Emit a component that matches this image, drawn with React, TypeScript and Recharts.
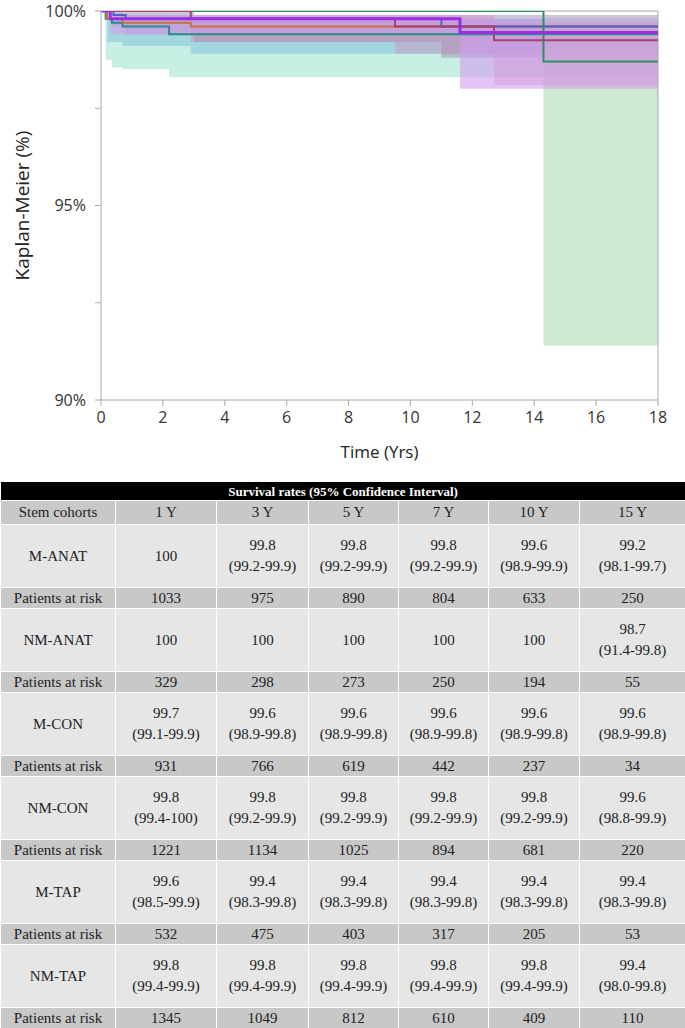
import React from 'react';
import {
  ComposedChart,
  Line,
  Area,
  XAxis,
  YAxis,
  ReferenceLine,
} from 'recharts';

// Kaplan-Meier steps (time in years, survival %)
const mAnatTime = [0, 2.9, 9.5, 12.7];
const mAnatSurv = [100, 99.8, 99.6, 99.25];
const mAnatLow = [100, 99.2, 98.9, 98.1];
const mAnatHigh = [100, 99.9, 99.9, 99.7];

const nmAnatTime = [0, 14.3];
const nmAnatSurv = [100, 98.7];
const nmAnatLow = [100, 91.4];
const nmAnatHigh = [100, 99.8];

const mConTime = [0, 0.2, 0.7, 2.9];
const mConSurv = [100, 99.8, 99.7, 99.6];
const mConLow = [100, 99.2, 99.1, 98.9];
const mConHigh = [100, 99.95, 99.9, 99.8];

const nmConTime = [0, 0.4, 0.8, 3.0, 11.0];
const nmConSurv = [100, 99.9, 99.8, 99.8, 99.6];
const nmConLow = [100, 99.6, 99.4, 99.2, 98.8];
const nmConHigh = [100, 100, 100, 99.9, 99.9];

const mTapTime = [0, 0.15, 0.35, 0.7, 2.2];
const mTapSurv = [100, 99.8, 99.7, 99.6, 99.4];
const mTapLow = [100, 98.75, 98.55, 98.5, 98.3];
const mTapHigh = [100, 99.95, 99.9, 99.9, 99.8];

const nmTapTime = [0, 0.3, 11.6];
const nmTapSurv = [100, 99.8, 99.45];
const nmTapLow = [100, 99.4, 98.0];
const nmTapHigh = [100, 99.9, 99.8];

const xTicks = [0, 2, 4, 6, 8, 10, 12, 14, 16, 18];
const yTicks = [90, 92.5, 95, 97.5, 100];

// table
const periods = ['1 Y', '3 Y', '5 Y', '7 Y', '10 Y', '15 Y'];
const cohorts = ['M-ANAT', 'NM-ANAT', 'M-CON', 'NM-CON', 'M-TAP', 'NM-TAP'];
const rates = [
  ['100', '99.8', '99.8', '99.8', '99.6', '99.2'],
  ['100', '100', '100', '100', '100', '98.7'],
  ['99.7', '99.6', '99.6', '99.6', '99.6', '99.6'],
  ['99.8', '99.8', '99.8', '99.8', '99.8', '99.6'],
  ['99.6', '99.4', '99.4', '99.4', '99.4', '99.4'],
  ['99.8', '99.8', '99.8', '99.8', '99.8', '99.4'],
];
const intervals = [
  ['', '(99.2-99.9)', '(99.2-99.9)', '(99.2-99.9)', '(98.9-99.9)', '(98.1-99.7)'],
  ['', '', '', '', '', '(91.4-99.8)'],
  ['(99.1-99.9)', '(98.9-99.8)', '(98.9-99.8)', '(98.9-99.8)', '(98.9-99.8)', '(98.9-99.8)'],
  ['(99.4-100)', '(99.2-99.9)', '(99.2-99.9)', '(99.2-99.9)', '(99.2-99.9)', '(98.8-99.9)'],
  ['(98.5-99.9)', '(98.3-99.8)', '(98.3-99.8)', '(98.3-99.8)', '(98.3-99.8)', '(98.3-99.8)'],
  ['(99.4-99.9)', '(99.4-99.9)', '(99.4-99.9)', '(99.4-99.9)', '(99.4-99.9)', '(98.0-99.8)'],
];
const atRisk = [
  [1033, 975, 890, 804, 633, 250],
  [329, 298, 273, 250, 194, 55],
  [931, 766, 619, 442, 237, 34],
  [1221, 1134, 1025, 894, 681, 220],
  [532, 475, 403, 317, 205, 53],
  [1345, 1049, 812, 610, 409, 110],
];

const build = (t: number[], s: number[], lo: number[], hi: number[]) => {
  const rows = t.map((x, i) => ({ t: x, s: s[i], ci: [lo[i], hi[i]] }));
  const last = rows[rows.length - 1];
  rows.push({ t: 18, s: last.s, ci: last.ci });
  return rows;
};

const series = [
  { name: 'M-TAP', data: build(mTapTime, mTapSurv, mTapLow, mTapHigh), line: '#2a8a8c', band: '#b4eada', op: 0.75, w: 2 },
  { name: 'M-CON', data: build(mConTime, mConSurv, mConLow, mConHigh), line: '#c8703a', band: '#80c0dc', op: 0.5, w: 2 },
  { name: 'NM-CON', data: build(nmConTime, nmConSurv, nmConLow, nmConHigh), line: '#5060c0', band: '#9890b0', op: 0.5, w: 2 },
  { name: 'NM-ANAT', data: build(nmAnatTime, nmAnatSurv, nmAnatLow, nmAnatHigh), line: '#2f8f5f', band: '#a8dcb0', op: 0.6, w: 2 },
  { name: 'M-ANAT', data: build(mAnatTime, mAnatSurv, mAnatLow, mAnatHigh), line: '#a8406a', band: '#d888b8', op: 0.4, w: 2 },
  { name: 'NM-TAP', data: build(nmTapTime, nmTapSurv, nmTapLow, nmTapHigh), line: '#9a2ee0', band: '#d49cf0', op: 0.6, w: 3 },
];

const axisFont = { fill: '#333', fontSize: 16, fontFamily: 'Open Sans' };
const serif = "'Liberation Serif', 'Times New Roman', 'DejaVu Serif', serif";

const YLabel = ({ viewBox }: any) => {
  const x = viewBox.x + 22;
  const y = viewBox.y + viewBox.height / 2;
  return (
    <text x={x} y={y} transform={`rotate(-90 ${x} ${y})`} textAnchor="middle" dominantBaseline="central"
      fill="#222" fontSize={19} fontFamily="Open Sans">
      Kaplan-Meier (%)
    </text>
  );
};

const cell: React.CSSProperties = {
  border: '1px solid #fff',
  textAlign: 'center',
  padding: 0,
  fontFamily: serif,
  fontSize: 15,
  color: '#222',
};

const App = () => {
  return (
    <div style={{ width: 685, height: 1028, background: '#fff', overflow: 'hidden' }}>
      <style>{'body{margin:0}'}</style>
      <ComposedChart width={685} height={470} margin={{ top: 11, right: 27, bottom: 0, left: 0 }}>
        <XAxis
          dataKey="t"
          type="number"
          domain={[0, 18]}
          ticks={xTicks}
          height={70}
          allowDuplicatedCategory={false}
          stroke="#aaa"
          tickMargin={6}
          tick={axisFont}
          label={{ value: 'Time (Yrs)', position: 'insideBottom', offset: 12, fill: '#222', fontSize: 17, fontFamily: 'Open Sans' }}
        />
        <YAxis
          type="number"
          domain={[90, 100]}
          ticks={yTicks}
          width={101}
          allowDataOverflow
          stroke="#aaa"
          tickMargin={9}
          tick={axisFont}
          tickFormatter={(v: number) => (v % 5 === 0 ? `${v}%` : '')}
          label={<YLabel />}
        />
        <ReferenceLine y={100} stroke="#aaa" />
        <ReferenceLine x={18} stroke="#aaa" />
        {series.map((s) => (
          <Area
            key={`band-${s.name}`}
            data={s.data}
            dataKey="ci"
            type="stepAfter"
            stroke="none"
            fill={s.band}
            fillOpacity={s.op}
            isAnimationActive={false}
          />
        ))}
        {series.map((s) => (
          <Line
            key={`line-${s.name}`}
            data={s.data}
            dataKey="s"
            type="stepAfter"
            stroke={s.line}
            strokeWidth={s.w}
            dot={false}
            activeDot={false}
            isAnimationActive={false}
          />
        ))}
      </ComposedChart>
      <table
        style={{
          marginTop: 11,
          width: 685,
          borderCollapse: 'collapse',
          tableLayout: 'fixed',
          fontFamily: serif,
          fontSize: 15,
        }}
      >
        <colgroup>
          <col style={{ width: 115 }} />
          <col style={{ width: 101 }} />
          <col style={{ width: 92 }} />
          <col style={{ width: 90 }} />
          <col style={{ width: 90 }} />
          <col style={{ width: 91 }} />
          <col style={{ width: 106 }} />
        </colgroup>
        <tbody>
          <tr style={{ height: 19 }}>
            <td colSpan={7} style={{ ...cell, background: '#000', color: '#fff', fontWeight: 'bold', fontSize: 13, lineHeight: '17px' }}>
              Survival rates (95% Confidence Interval)
            </td>
          </tr>
          <tr style={{ height: 24, background: '#c8c8c8' }}>
            <td style={cell}>Stem cohorts</td>
            {periods.map((p) => (
              <td key={p} style={cell}>{p}</td>
            ))}
          </tr>
          {cohorts.map((c, i) => (
            <React.Fragment key={c}>
              <tr style={{ height: 63, background: '#e6e6e6' }}>
                <td style={cell}>{c}</td>
                {rates[i].map((r, j) => (
                  <td key={j} style={{ ...cell, lineHeight: '21px' }}>
                    {r}
                    {intervals[i][j] && <br />}
                    {intervals[i][j]}
                  </td>
                ))}
              </tr>
              <tr style={{ height: 21, background: '#c8c8c8' }}>
                <td style={{ ...cell, lineHeight: '18px' }}>Patients at risk</td>
                {atRisk[i].map((n, j) => (
                  <td key={j} style={{ ...cell, lineHeight: '18px' }}>{n}</td>
                ))}
              </tr>
            </React.Fragment>
          ))}
        </tbody>
      </table>
    </div>
  );
};

export default App;
